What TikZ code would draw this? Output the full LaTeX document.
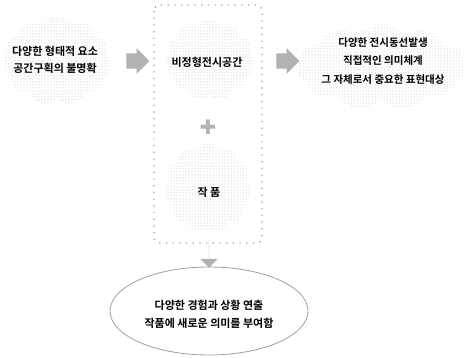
\documentclass[tikz,border=0pt]{standalone}
\usepackage{fontspec}
\setmainfont{Noto Sans CJK KR}[BoldFont={Noto Sans CJK KR Bold}]
\newfontfamily\symfont{DejaVu Sans}
\usetikzlibrary{shapes.symbols,shapes.arrows,shapes.geometric,patterns}
\tikzset{
  blob/.style={cloud, cloud puffs=11, cloud puff arc=110, aspect=1.4, inner sep=0pt,
    pattern=dots, pattern color=gray!60, draw=none},
  txt/.style={align=center, font=\fontsize{11}{17}\selectfont\bfseries, inner sep=1pt},
  barrow/.style={single arrow, fill=gray!60, draw=none, inner xsep=0pt,
    single arrow head indent=0pt},
  frame/.style={draw=gray!75, line width=1.2pt, dash pattern=on 1.2pt off 5.5pt,
    rounded corners=6pt},
}
\begin{document}
\begin{tikzpicture}[x=1pt,y=-1pt]
\useasboundingbox (0,0) rectangle (465,358);
% left
\node[blob, minimum width=108pt, minimum height=88pt] (cl) at (57,61) {};
\node[txt] (tl) at (55,60) {다양한 형태적 요소\\공간구획의 불명확};
% frame
\draw[frame] (154,5) rectangle (262,243);
% middle clouds
\node[blob, minimum width=88pt, minimum height=80pt] (cm1) at (210,60) {};
\node[txt] (tm1) at (207,62) {비정형전시공간};
\node[text=gray!60, font=\symfont\fontsize{20}{20}\selectfont, inner sep=0pt] (plus) at (208,127) {✚};
\node[blob, minimum width=86pt, minimum height=90pt] (cm2) at (208,188) {};
\node[txt] (tm2) at (209,192) {작 품};
% right
\node[blob, minimum width=168pt, minimum height=86pt] (cr) at (381,67) {};
\node[txt, font=\fontsize{10.5}{18.5}\selectfont\bfseries] (tr) at (383,61)
  {다양한 전시동선발생\\직접적인 의미체계\\그 자체로서 중요한 표현대상};
% arrows
\node[barrow, inner ysep=7.5pt, minimum height=23pt, single arrow head extend=5pt] (a1) at (134,61) {};
\node[barrow, inner ysep=7.5pt, minimum height=23pt, single arrow head extend=5pt] (a2) at (284,61) {};
\node[barrow, inner ysep=10pt, minimum height=27pt, single arrow head extend=8.5pt,
  shape border rotate=270] (a3) at (209,254) {};
% ellipse
\node[ellipse, draw=gray!75, line width=0.8pt, minimum width=198pt, minimum height=88pt,
  inner sep=0pt] (el) at (209,311) {};
\node[txt, font=\fontsize{11}{18}\selectfont\bfseries] (te) at (209,314)
  {다양한 경험과 상황 연출\\작품에 새로운 의미를 부여함};
\end{tikzpicture}
\end{document}
